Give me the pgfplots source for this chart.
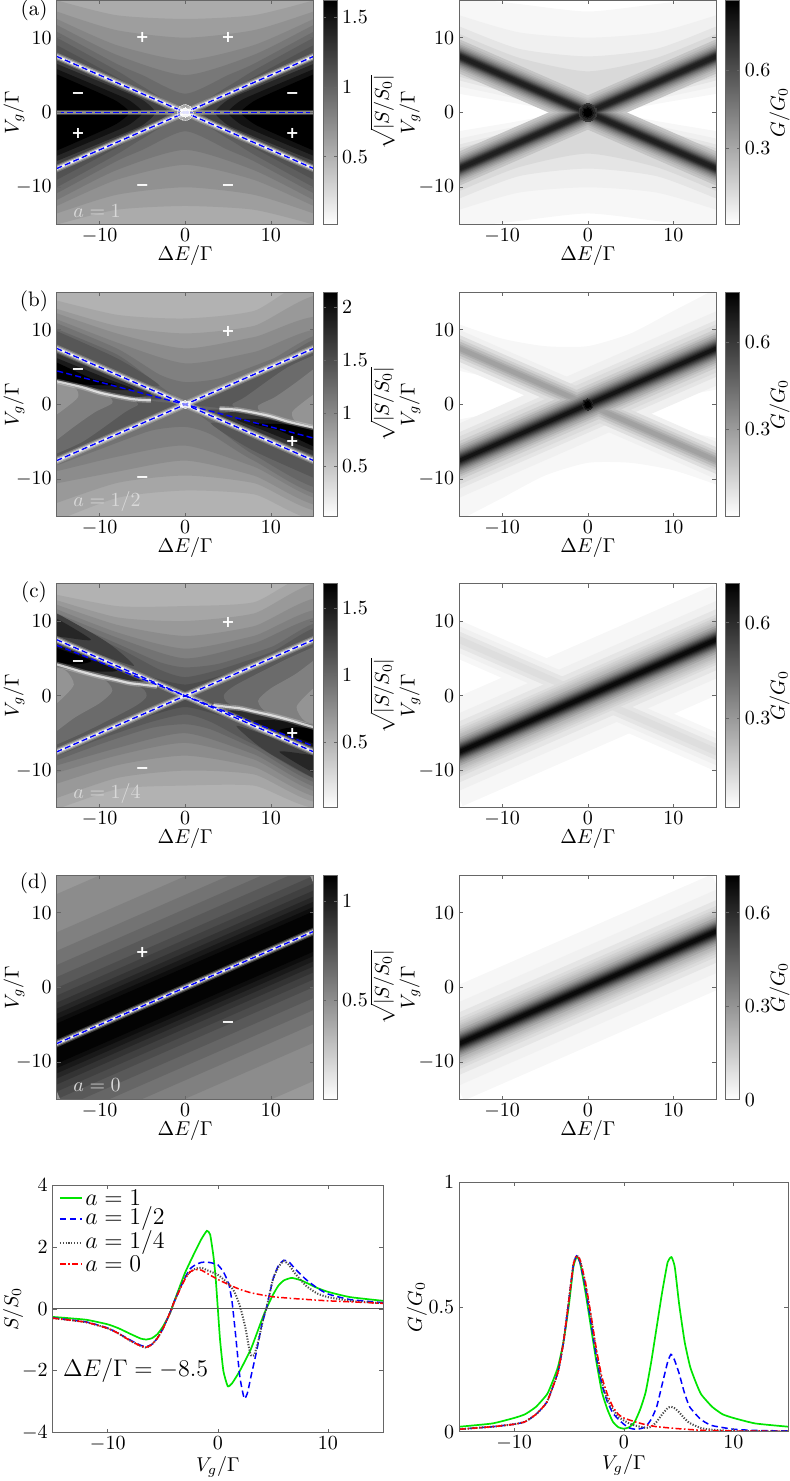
\documentclass[border=0pt]{standalone}
\usepackage[no-math]{fontspec}
\usepackage{pgfplots}
\usepackage{pgfplotstable}
\pgfplotsset{compat=1.18}
\newfontfamily\sgnfont{DejaVu Sans}
\pgfplotsset{colormap={invgray}{gray(0cm)=(1); gray(1cm)=(0)}}
\pgfplotstableread{
x y
-17 -8.5
17 8.5
}\tUp
\pgfplotstableread{
x y
-17 8.5
17 -8.5
}\tDn
\pgfplotstableread{
x y
-17 0
17 0
}\tZero
\pgfplotstableread{
x y
-17 5.1
17 -5.1
}\tThB
\pgfplotstableread{
x y
-17 7.65
17 -7.65
}\tThC
\newcommand\rl[3]{\addplot[draw=black!#1,line width=#2pt,forget plot] table {#3};}
\newcommand\rr[2]{\rl{#1}{#2}{\tUp}\rl{#1}{#2}{\tDn}}
\newcommand\pg[2]{\addplot[fill=black!#1,draw=none,smooth,tension=.4,forget plot] coordinates {#2};}
\newcommand\blob[3]{\addplot[only marks,mark=*,mark size=#2pt,color=#1,mark options={draw=#1,fill=#1,line width=0pt,opacity=#3},forget plot] coordinates {(0,0)};}
\newcommand\wl[1]{%
\addplot[white,opacity=.22,line width=3.6pt,forget plot] table {#1};
\addplot[white,opacity=.4,line width=2.4pt,forget plot] table {#1};
\addplot[white,opacity=.9,line width=1.2pt,forget plot] table {#1};}
\newcommand\bl[1]{\addplot[blue,line width=.7pt,dash pattern=on 3pt off 1.6pt,forget plot] table {#1};}
\newcommand\wc[1]{%
\addplot[white,opacity=.25,line width=2.6pt,smooth,forget plot] coordinates {#1};
\addplot[white,opacity=.7,line width=1.1pt,smooth,forget plot] coordinates {#1};}
\newcommand\sgn[3]{\node[text=white,inner sep=0pt] at (axis cs:#2,#3) {\fontsize{8}{9}\selectfont\sgnfont\bfseries #1};}
\newcommand\atag[2]{\node[anchor=west,inner sep=0pt,text=white!85!black] at (axis cs:-13.1,#2) {$a=#1$};}
\newcommand\leglab[2]{\node[anchor=west,inner sep=0pt] at (axis cs:-12.07,#1) {\fontsize{12}{14}\selectfont$a=#2$};}
\pgfplotsset{
  base/.style={scale only axis,anchor=south west,axis on top,
    tick align=inside,tick pos=both,major tick length=2pt,
    tick style={black!60,line width=.3pt},
    axis line style={black!60,line width=.5pt},
    tick label style={font=\fontsize{10}{12}\selectfont},
    xticklabel style={yshift=1.5pt},yticklabel style={xshift=1pt},
    label style={font=\fontsize{11}{12}\selectfont}},
  hm/.style={base,width=128.5pt,height=112.2pt,xmin=-15,xmax=15,ymin=-15,ymax=15,
    xtick={-10,0,10},ytick={-10,0,10},
    xlabel={$\Delta E/\Gamma$},ylabel={$V_g/\Gamma$},
    every axis x label/.style={at={(axis description cs:.5,-.138)},anchor=center},
    colormap name=invgray,colorbar,
    every colorbar/.append style={scale only axis,width=7pt,at={(parent axis.north east)},anchor=north west,xshift=-3.8pt,
      tick align=inside,major tick length=1.5pt,
      tick style={black!60,line width=.3pt},
      axis line style={black!60,line width=.5pt},
      yticklabel style={xshift=-1pt,font=\fontsize{10}{12}\selectfont},
      label style={font=\fontsize{10.5}{12}\selectfont}}},
  hl/.style={hm,every axis y label/.style={at={(axis description cs:-.166,.5)},rotate=90,anchor=center},
    every colorbar/.append style={every axis y label/.style={at={(axis description cs:4.24,.5)},rotate=90,anchor=center},ylabel={$\sqrt{|S/S_0|}$}}},
  hr/.style={hm,every axis y label/.style={at={(axis description cs:-.192,.5)},rotate=90,anchor=center},
    every colorbar/.append style={every axis y label/.style={at={(axis description cs:3.85,.5)},rotate=90,anchor=center},ylabel={$G/G_0$},ytick={.3,.6}}},
}
\begin{document}
\begin{tikzpicture}
\path[use as bounding box] (0,0) rectangle (395pt,740.5pt);
% ---------------- (a) S
\begin{axis}[hl,at={(28.35pt,628.15pt)},point meta min=.014,point meta max=1.62,
  colorbar style={ytick={.5,1,1.5}}]
\pg{33}{(-17,-17)(17,-17)(17,17)(-17,17)}
\pg{38}{(-17,16)(-15,15)(-8,13)(0,12.5)(8,13)(15,15)(17,16)(17,-16)(15,-15)(8,-13)(0,-12.5)(-8,-13)(-15,-15)(-17,-16)}
\pg{43}{(-17,14.5)(-15,13.5)(-8,11)(0,10)(8,11)(15,13.5)(17,14.5)(17,-14.5)(15,-13.5)(8,-11)(0,-10)(-8,-11)(-15,-13.5)(-17,-14.5)}
\pg{48}{(-17,13.5)(-15,12.5)(-8,9)(0,7)(8,9)(15,12.5)(17,13.5)(17,-13.5)(15,-12.5)(8,-9)(0,-7)(-8,-9)(-15,-12.5)(-17,-13.5)}
\pg{53}{(-17,12.7)(-15,11.7)(-8,7.7)(0,5)(8,7.7)(15,11.7)(17,12.7)(17,-12.7)(15,-11.7)(8,-7.7)(0,-5)(-8,-7.7)(-15,-11.7)(-17,-12.7)}
\pg{58}{(-17,11.8)(-15,10.8)(-8,6.5)(-5,5)(0,2.5)(5,5)(8,6.5)(15,10.8)(17,11.8)(17,-11.8)(15,-10.8)(8,-6.5)(5,-5)(0,-2.5)(-5,-5)(-8,-6.5)(-15,-10.8)(-17,-11.8)}
\pg{63}{(-17,11)(-15,10)(-8,5.6)(-5,3.5)(0,.5)(5,3.5)(8,5.6)(15,10)(17,11)(17,-11)(15,-10)(8,-5.6)(5,-3.5)(0,-.5)(-5,-3.5)(-8,-5.6)(-15,-10)(-17,-11)}
\pg{68}{(-17,10)(-15,9)(-8,4.7)(-4,2)(-1,0)(-4,-2)(-8,-4.7)(-15,-9)(-17,-10)}
\pg{68}{(17,10)(15,9)(8,4.7)(4,2)(1,0)(4,-2)(8,-4.7)(15,-9)(17,-10)}
\pg{75}{(-17,8.1)(-15,7.1)(-8,3.6)(-4,1.7)(-2,0)(-4,-1.7)(-8,-3.6)(-15,-7.1)(-17,-8.1)}
\pg{75}{(17,8.1)(15,7.1)(8,3.6)(4,1.7)(2,0)(4,-1.7)(8,-3.6)(15,-7.1)(17,-8.1)}
\pg{85}{(-17,7.5)(-15,6.5)(-8,3.2)(-5,1.7)(-3.5,0)(-5,-1.7)(-8,-3.2)(-15,-6.5)(-17,-7.5)}
\pg{85}{(17,7.5)(15,6.5)(8,3.2)(5,1.7)(3.5,0)(5,-1.7)(8,-3.2)(15,-6.5)(17,-7.5)}
\pg{93}{(-17,6.8)(-15,5.8)(-9,2.9)(-6.5,1.6)(-5,0)(-6.5,-1.6)(-9,-2.9)(-15,-5.8)(-17,-6.8)}
\pg{93}{(17,6.8)(15,5.8)(9,2.9)(6.5,1.6)(5,0)(6.5,-1.6)(9,-2.9)(15,-5.8)(17,-6.8)}
\pg{100}{(-17,6)(-15,5.1)(-10,2.6)(-8,1.5)(-6.5,0)(-8,-1.5)(-10,-2.6)(-15,-5.1)(-17,-6)}
\pg{100}{(17,6)(15,5.1)(10,2.6)(8,1.5)(6.5,0)(8,-1.5)(10,-2.6)(15,-5.1)(17,-6)}
\wl{\tUp}\wl{\tDn}
\addplot[white,opacity=.25,line width=2.6pt,forget plot] table {\tZero};
\rl{45}{1.3}{\tZero}
\blob{white}{4}{.4}\blob{white}{2.3}{.8}
\bl{\tUp}\bl{\tDn}\bl{\tZero}
\sgn{+}{-5}{10}\sgn{+}{5}{10}\sgn{\textminus}{-12.5}{2.2}\sgn{\textminus}{12.5}{2.2}
\sgn{+}{-12.5}{-2.8}\sgn{+}{12.5}{-2.8}\sgn{\textminus}{-5}{-10}\sgn{\textminus}{5}{-10}
\atag{1}{-13.2}
\end{axis}
% ---------------- (a) G
\begin{axis}[hr,at={(229.65pt,628.15pt)},point meta min=.003,point meta max=.87]
\pg{3}{(-17,16.5)(-15,15.5)(-8,14.5)(0,13.5)(8,14.5)(15,15.5)(17,16.5)(17,3)(15,2.5)(4,0)(15,-2.5)(17,-3)(17,-16.5)(15,-15.5)(8,-14.5)(0,-13.5)(-8,-14.5)(-15,-15.5)(-17,-16.5)(-17,-3)(-15,-2.5)(-4,0)(-15,2.5)(-17,3)}
\pg{6}{(-17,14)(-15,13)(-8,10.7)(0,10)(8,10.7)(15,13)(17,14)(17,4)(15,3.5)(3,0)(15,-3.5)(17,-4)(17,-14)(15,-13)(8,-10.7)(0,-10)(-8,-10.7)(-15,-13)(-17,-14)(-17,-4)(-15,-3.5)(-3,0)(-15,3.5)(-17,4)}
\pg{10}{(-17,12.5)(-15,11.5)(-8,8.5)(0,7.5)(8,8.5)(15,11.5)(17,12.5)(17,5)(15,4.3)(2.5,0)(15,-4.3)(17,-5)(17,-12.5)(15,-11.5)(8,-8.5)(0,-7.5)(-8,-8.5)(-15,-11.5)(-17,-12.5)(-17,-5)(-15,-4.3)(-2.5,0)(-15,4.3)(-17,5)}
\pg{15}{(-17,11.5)(-15,10.5)(-8,7.3)(0,5.5)(8,7.3)(15,10.5)(17,11.5)(17,5.6)(15,4.8)(2,0)(15,-4.8)(17,-5.6)(17,-11.5)(15,-10.5)(8,-7.3)(0,-5.5)(-8,-7.3)(-15,-10.5)(-17,-11.5)(-17,-5.6)(-15,-4.8)(-2,0)(-15,4.8)(-17,5.6)}
\rr{23}{15.7}\rr{28}{13.3}\rr{34}{11.3}\rr{40}{9.8}\rr{46}{8.5}\rr{52}{7.3}\rr{57}{6.5}\rr{63}{5.5}\rr{69}{4.8}\rr{76}{3.9}\rr{83}{3}\rr{88}{1.8}
\blob{black!78}{4.5}{1}\blob{black!85}{3.7}{1}\blob{black!93}{2.8}{1}\blob{black}{2}{1}
\end{axis}
% ---------------- (b) S
\begin{axis}[hl,at={(28.35pt,482.15pt)},point meta min=.025,point meta max=2.144,
  colorbar style={ytick={.5,1,1.5,2}}]
\pg{30}{(-17,-17)(17,-17)(17,17)(-17,17)}
\pg{35}{(-17,14.5)(-8,12)(0,11.5)(8,12.5)(17,16.5)(17,-14.5)(8,-12)(0,-11.5)(-8,-12.5)(-17,-16.5)}
\pg{40}{(-17,13.5)(-8,10.5)(0,9.5)(8,10.5)(17,14)(17,-13.5)(8,-10.5)(0,-9.5)(-8,-10.5)(-17,-14)}
\pg{45}{(-17,13)(-8,9.5)(0,7.5)(8,9)(17,11)(17,-13)(8,-9.5)(0,-7.5)(-8,-9)(-17,-11)}
\pg{50}{(-17,12.3)(-8,8.3)(0,5.5)(8,7)(17,9.5)(17,-12.3)(8,-8.3)(0,-5.5)(-8,-7)(-17,-9.5)}
\pg{55}{(-17,11.8)(-8,7.5)(-3,4)(0,3)(4,3.5)(10,6)(17,9)(17,-11.8)(8,-7.5)(3,-4)(0,-3)(-4,-3.5)(-10,-6)(-17,-9)}
\pg{60}{(-17,11)(-8,6.7)(-3,2.5)(0,.5)(4,2.3)(10,5.2)(17,8.7)(17,-11)(8,-6.7)(3,-2.5)(0,-.5)(-4,-2.3)(-10,-5.2)(-17,-8.7)}
\pg{66}{(-17,10.8)(-8,6.2)(-3,2.5)(-8,3.5)(-17,8)}
\pg{66}{(17,-10.8)(8,-6.2)(3,-2.5)(8,-3.5)(17,-8)}
\pg{65}{(-17,3.4)(-4,.5)(-.5,0)(-4,-1.9)(-17,-8.4)}
\pg{65}{(17,-3.4)(4,-.5)(.5,0)(4,1.9)(17,8.4)}
\pg{58}{(-17,3.4)(-7,.9)(-5.5,0)(-7,-1)(-12,-5)(-17,-7.5)}
\pg{58}{(17,-3.4)(7,-.9)(5.5,0)(7,1)(12,5)(17,7.5)}
\pg{50}{(-17,3.4)(-9.5,1.4)(-8.5,.2)(-10.5,-1)(-13,-3)(-17,-6.5)}
\pg{50}{(17,-3.4)(9.5,-1.4)(8.5,-.2)(10.5,1)(13,3)(17,6.5)}
\pg{42}{(-17,3.4)(-13,2.3)(-12.5,1)(-14,-.5)(-17,-3)}
\pg{42}{(17,-3.4)(13,-2.3)(12.5,-1)(14,.5)(17,3)}
\pg{70}{(-17,8.2)(-15,7.2)(-8,3.7)(-2,.9)(-6,.8)(-10,1.7)(-17,3.5)}
\pg{70}{(17,-8.2)(15,-7.2)(8,-3.7)(2,-.9)(6,-.8)(10,-1.7)(17,-3.5)}
\pg{80}{(-17,7.8)(-15,6.8)(-8,3.4)(-4,1.5)(-6,1)(-10,1.9)(-17,3.6)}
\pg{80}{(17,-7.8)(15,-6.8)(8,-3.4)(4,-1.5)(6,-1)(10,-1.9)(17,-3.6)}
\pg{90}{(-17,7)(-15,6.2)(-9,3.4)(-6,2)(-10,2.1)(-17,3.7)}
\pg{90}{(17,-7)(15,-6.2)(9,-3.4)(6,-2)(10,-2.1)(17,-3.7)}
\pg{100}{(-17,6.2)(-15,5.6)(-11,3.5)(-8,2.6)(-12,2.7)(-17,3.7)}
\pg{100}{(17,-6.2)(15,-5.6)(11,-3.5)(8,-2.6)(12,-2.7)(17,-3.7)}
\wl{\tUp}\wl{\tDn}
\wc{(-17,3.6)(-15,3.1)(-12,2.3)(-10,1.6)(-8,1.1)(-6,.7)(-4,.55)}
\wc{(17,-3.6)(15,-3.1)(12,-2.3)(10,-1.6)(8,-1.1)(6,-.7)(4,-.55)}
\blob{white}{2}{.5}
\bl{\tUp}\bl{\tDn}\bl{\tThB}
\sgn{+}{5}{9.8}\sgn{\textminus}{-12.5}{4.4}\sgn{+}{12.5}{-5}\sgn{\textminus}{-5}{-10}
\atag{1/2}{-13}
\end{axis}
% ---------------- (b) G
\begin{axis}[hr,at={(229.65pt,482.15pt)},point meta min=0,point meta max=.772]
\pg{3}{(-17,11.5)(-15,10.7)(-10,8.8)(-5,7.8)(0,7.8)(5,9.5)(10,12.5)(15,15.5)(17,17)(17,2.5)(15,2)(3,-1)(15,-4.5)(17,-5)(17,-11.5)(15,-10.7)(10,-8.8)(5,-7.8)(0,-7.8)(-5,-9.5)(-10,-12.5)(-15,-15.5)(-17,-17)(-17,-2.5)(-15,-2)(-3,1)(-15,4.5)(-17,5)}
\rl{6}{17}{\tDn}\rl{6}{34}{\tUp}
\rl{10}{26}{\tUp}\rl{13}{12.3}{\tDn}\rl{14}{22}{\tUp}
\rl{19}{8.9}{\tDn}\rl{20}{17.8}{\tUp}
\rl{26}{6.5}{\tDn}\rl{26}{15}{\tUp}
\rl{32}{4.1}{\tDn}\rl{33}{13}{\tUp}\rl{37}{2.4}{\tDn}
\rl{39}{11}{\tUp}\rl{46}{9.5}{\tUp}\rl{52}{8.2}{\tUp}\rl{58}{7.1}{\tUp}\rl{65}{6.1}{\tUp}\rl{72}{5}{\tUp}\rl{78}{4}{\tUp}\rl{85}{3}{\tUp}\rl{92}{1.8}{\tUp}
\blob{black!85}{2.8}{1}\blob{black!93}{2.2}{1}\blob{black}{1.5}{1}
\end{axis}
% ---------------- (c) S
\begin{axis}[hl,at={(28.35pt,336.5pt)},point meta min=.005,point meta max=1.685,
  colorbar style={ytick={.5,1,1.5}}]
\pg{30}{(-17,-17)(17,-17)(17,17)(-17,17)}
\pg{35}{(-17,14)(-8,12)(0,12)(8,12.5)(17,16)(17,-14)(8,-12)(0,-12)(-8,-12.5)(-17,-16)}
\pg{40}{(-17,13.5)(-8,10.5)(0,10)(8,11)(17,14.5)(17,-13.5)(8,-10.5)(0,-10)(-8,-11)(-17,-14.5)}
\pg{45}{(-17,13)(-8,9.5)(0,8)(8,9.3)(17,12.5)(17,-13)(8,-9.5)(0,-8)(-8,-9.3)(-17,-12.5)}
\pg{50}{(-17,12.5)(-8,8.5)(0,6.3)(8,8)(17,11)(17,-12.5)(8,-8.5)(0,-6.3)(-8,-8)(-17,-11)}
\pg{55}{(-17,12)(-8,7.8)(0,5)(8,7)(17,10)(17,-12)(8,-7.8)(0,-5)(-8,-7)(-17,-10)}
\pg{60}{(-17,11.5)(-8,7)(-3,4.5)(0,3.8)(4,4.3)(10,6.5)(17,9.5)(17,-11.5)(8,-7)(3,-4.5)(0,-3.8)(-4,-4.3)(-10,-6.5)(-17,-9.5)}
\pg{65}{(-17,11)(-8,6.5)(-3,3.5)(0,2.5)(4,3.5)(10,5.8)(17,9)(17,-11)(8,-6.5)(3,-3.5)(0,-2.5)(-4,-3.5)(-10,-5.8)(-17,-9)}
\pg{70}{(-6,3.2)(0,1.5)(6,3.2)(3,0)(6,-3.2)(0,-1.5)(-6,-3.2)(-3,0)}
\pg{75}{(-17,11.5)(-15,11)(-10,7.8)(-8,6.2)(-6,4)(-10,5.5)(-17,8)}
\pg{75}{(17,-11.5)(15,-11)(10,-7.8)(8,-6.2)(6,-4)(10,-5.5)(17,-8)}
\pg{85}{(-17,10.8)(-15,10.3)(-11,7.5)(-14,7.8)(-17,8.3)}
\pg{85}{(17,-10.8)(15,-10.3)(11,-7.5)(14,-7.8)(17,-8.3)}
\pg{65}{(-17,4.3)(-4,1.2)(-.5,0)(-4,-1.9)(-17,-8.4)}
\pg{65}{(17,-4.3)(4,-1.2)(.5,0)(4,1.9)(17,8.4)}
\pg{58}{(-17,4.3)(-6,1.5)(-4.5,0)(-6,-1.5)(-12,-5)(-17,-7.5)}
\pg{58}{(17,-4.3)(6,-1.5)(4.5,0)(6,1.5)(12,5)(17,7.5)}
\pg{50}{(-17,4.3)(-10,2.5)(-8.5,.7)(-10,-1)(-13,-3)(-17,-6.5)}
\pg{50}{(17,-4.3)(10,-2.5)(8.5,-.7)(10,1)(13,3)(17,6.5)}
\pg{42}{(-17,4.3)(-14,3.4)(-13,1.5)(-14.5,-.5)(-17,-3)}
\pg{42}{(17,-4.3)(14,-3.4)(13,-1.5)(14.5,.5)(17,3)}
\pg{70}{(-17,8.3)(-3.5,1.6)(-6,1.8)(-10,2.7)(-17,4.4)}
\pg{70}{(17,-8.3)(3.5,-1.6)(6,-1.8)(10,-2.7)(17,-4.4)}
\pg{82}{(-17,8.1)(-5,2.4)(-7,2.1)(-10,3)(-17,4.5)}
\pg{82}{(17,-8.1)(5,-2.4)(7,-2.1)(10,-3)(17,-4.5)}
\pg{92}{(-17,7.7)(-8,3.5)(-12,3.4)(-17,4.6)}
\pg{92}{(17,-7.7)(8,-3.5)(12,-3.4)(17,-4.6)}
\pg{100}{(-17,7.4)(-15,6.4)(-11,4.7)(-13,4.2)(-17,4.8)}
\pg{100}{(17,-7.4)(15,-6.4)(11,-4.7)(13,-4.2)(17,-4.8)}
\wl{\tUp}\wl{\tDn}
\wc{(-17,4.7)(-15,4.2)(-12,3.2)(-10,2.6)(-8,2.1)(-6.5,1.7)(-5,1.5)(-3.3,1.25)}
\wc{(17,-4.7)(15,-4.2)(12,-3.2)(10,-2.6)(8,-2.1)(6.5,-1.7)(5,-1.5)(3.3,-1.25)}
\bl{\tUp}\bl{\tDn}\bl{\tThC}
\sgn{+}{5}{9.8}\sgn{\textminus}{-12.5}{4.3}\sgn{+}{12.5}{-5}\sgn{\textminus}{-5}{-10}
\atag{1/4}{-13}
\end{axis}
% ---------------- (c) G
\begin{axis}[hr,at={(229.65pt,336.5pt)},point meta min=.016,point meta max=.723]
\rl{3}{18}{\tDn}\rl{3}{51}{\tUp}
\rl{6}{12.3}{\tDn}\rl{6}{35.5}{\tUp}
\rl{10}{7.5}{\tDn}\rl{10}{28}{\tUp}
\rl{13}{3.4}{\tDn}\rl{14}{23}{\tUp}
\rl{18}{20.5}{\tUp}\rl{21}{18.4}{\tUp}\rl{25}{16.5}{\tUp}\rl{28}{15}{\tUp}\rl{35}{13}{\tUp}\rl{42}{11}{\tUp}\rl{48}{9.5}{\tUp}\rl{55}{8.2}{\tUp}\rl{62}{7.1}{\tUp}\rl{69}{6.1}{\tUp}\rl{76}{5}{\tUp}\rl{83}{4}{\tUp}\rl{90}{3}{\tUp}\rl{96}{1.8}{\tUp}
\end{axis}
% ---------------- (d) S
\begin{axis}[hl,at={(28.35pt,190.65pt)},point meta min=0,point meta max=1.13,
  colorbar style={ytick={.5,1}}]
\pg{40}{(-17,-17)(17,-17)(17,17)(-17,17)}
\rl{45}{137}{\tUp}\rl{50}{102}{\tUp}\rl{55}{85}{\tUp}\rl{60}{72}{\tUp}\rl{65}{61}{\tUp}\rl{70}{51}{\tUp}\rl{75}{44}{\tUp}\rl{80}{37.5}{\tUp}\rl{85}{32}{\tUp}\rl{90}{27.3}{\tUp}\rl{95}{22.5}{\tUp}\rl{99}{18.4}{\tUp}
\wl{\tUp}
\bl{\tUp}
\sgn{+}{-5}{4.7}\sgn{\textminus}{5}{-5}
\atag{0}{-13}
\end{axis}
% ---------------- (d) G
\begin{axis}[hr,at={(229.65pt,190.65pt)},point meta min=0,point meta max=.72,
  colorbar style={ytick={0,.3,.6}}]
\rl{3}{54}{\tUp}\rl{5.5}{38.2}{\tUp}\rl{10}{28.7}{\tUp}\rl{14}{23.4}{\tUp}\rl{18}{20.5}{\tUp}\rl{21}{18.3}{\tUp}\rl{25}{16.5}{\tUp}\rl{28}{15}{\tUp}\rl{35}{13}{\tUp}\rl{42}{10.9}{\tUp}\rl{48}{9.5}{\tUp}\rl{55}{8.3}{\tUp}\rl{62}{7.1}{\tUp}\rl{69}{6.1}{\tUp}\rl{76}{5}{\tUp}\rl{83}{4}{\tUp}\rl{90}{3}{\tUp}\rl{96}{1.8}{\tUp}
\end{axis}
% ---------------- bottom S
\begin{axis}[base,at={(26.35pt,24.15pt)},width=165.15pt,height=123.85pt,
  xmin=-15,xmax=15,ymin=-4,ymax=4,xtick={-10,0,10},ytick={-4,-2,0,2,4},
  xlabel={$V_g/\Gamma$},ylabel={$S/S_0$},
  every axis x label/.style={at={(axis description cs:.5,-.138)},anchor=center},
  every axis y label/.style={at={(axis description cs:-.12,.5)},rotate=90,anchor=center}]
\addplot[green!90!black,line width=.85pt,smooth,tension=.3,forget plot] coordinates {(-15,-.26)(-12,-.35)(-10,-.5)(-9,-.63)(-8,-.8)(-7,-.96)(-6.5,-.99)(-6,-.95)(-5.5,-.82)(-5,-.58)(-4.5,-.26)(-4.2,0)(-4,.2)(-3,1.15)(-2,1.9)(-1.5,2.25)(-1,2.52)(-.7,2.4)(-.4,1.7)(-.2,1)(0,0)(.2,-1)(.5,-2)(.9,-2.5)(1.3,-2.4)(2,-2)(3,-1.3)(4,-.35)(4.4,0)(5,.45)(5.5,.75)(6,.92)(6.7,1)(7.5,.93)(8,.85)(9,.68)(10,.55)(12,.38)(15,.26)};
\addplot[blue,line width=.75pt,dash pattern=on 3.2pt off 1.8pt,smooth,tension=.3,forget plot] coordinates {(-15,-.29)(-12,-.42)(-10,-.62)(-9,-.8)(-8,-1)(-7,-1.18)(-6.5,-1.22)(-6,-1.15)(-5.5,-.95)(-5,-.65)(-4.5,-.25)(-4.2,0)(-4,.2)(-3,1)(-2.5,1.3)(-2,1.43)(-1.5,1.5)(-1,1.51)(-.5,1.48)(0,1.42)(.5,1.2)(1,.8)(1.3,.2)(1.6,-.8)(2,-2.2)(2.4,-2.9)(2.7,-2.7)(3,-2.2)(3.5,-1.4)(4,-.5)(4.4,0)(5,.95)(5.5,1.4)(6,1.57)(6.5,1.5)(7,1.3)(8,.95)(9,.68)(10,.48)(12,.3)(15,.2)};
\addplot[black!70,line width=1pt,dash pattern=on .6pt off .8pt,smooth,tension=.3,forget plot] coordinates {(-15,-.3)(-12,-.43)(-10,-.63)(-9,-.8)(-8,-1.02)(-7,-1.2)(-6.5,-1.25)(-6,-1.15)(-5.5,-.95)(-5,-.65)(-4.5,-.25)(-4.2,0)(-4,.2)(-3,1)(-2.5,1.2)(-2,1.3)(-1.5,1.33)(-1,1.25)(0,1.1)(1,.8)(1.5,.55)(2,.1)(2.5,-.6)(2.8,-1.2)(3,-1.5)(3.3,-1.5)(3.7,-1)(4.2,-.2)(4.4,0)(5,.95)(5.5,1.35)(6,1.55)(6.5,1.4)(7,1.15)(8,.75)(9,.5)(10,.38)(12,.26)(15,.18)};
\addplot[red,line width=.75pt,dash pattern=on 3pt off 1.2pt on .8pt off 1.2pt,smooth,tension=.3,forget plot] coordinates {(-15,-.3)(-12,-.43)(-10,-.63)(-9,-.8)(-8,-1.02)(-7,-1.2)(-6.5,-1.24)(-6,-1.15)(-5.5,-.95)(-5,-.65)(-4.5,-.25)(-4.2,0)(-4,.2)(-3,.95)(-2.5,1.2)(-2,1.27)(-1.5,1.25)(-1,1.15)(0,.95)(1,.78)(2,.63)(3,.52)(4,.45)(5,.39)(7,.33)(10,.26)(15,.18)};
\addplot[black!65,line width=.5pt,forget plot] coordinates {(-15,0)(15,0)};
\addplot[green!90!black,line width=.85pt,forget plot] coordinates {(-14.34,3.58)(-12.34,3.58)};
\addplot[blue,line width=.75pt,dash pattern=on 3.2pt off 1.8pt,forget plot] coordinates {(-14.34,2.91)(-12.34,2.91)};
\addplot[black!70,line width=1pt,dash pattern=on .6pt off .8pt,forget plot] coordinates {(-14.34,2.13)(-12.34,2.13)};
\addplot[red,line width=.75pt,dash pattern=on 3pt off 1.2pt on .8pt off 1.2pt,forget plot] coordinates {(-14.34,1.45)(-12.34,1.45)};
\leglab{3.58}{1}\leglab{2.91}{1/2}\leglab{2.13}{1/4}\leglab{1.45}{0}
\node[anchor=west,inner sep=0pt] at (axis cs:-14.1,-1.98) {\fontsize{12}{14}\selectfont$\Delta E/\Gamma=-8.5$};
\end{axis}
% ---------------- bottom G
\begin{axis}[base,at={(229.65pt,24.65pt)},width=164.5pt,height=124.7pt,
  xmin=-15,xmax=15,ymin=0,ymax=1,xtick={-10,0,10},ytick={0,.5,1},
  xlabel={$V_g/\Gamma$},ylabel={$G/G_0$},
  every axis x label/.style={at={(axis description cs:.5,-.133)},anchor=center},
  every axis y label/.style={at={(axis description cs:-.129,.5)},rotate=90,anchor=center}]
\addplot[green!90!black,line width=.85pt,smooth,tension=.3] coordinates {(-15,.02)(-12,.033)(-10,.055)(-9,.07)(-8,.1)(-7,.15)(-6.5,.2)(-6,.26)(-5.5,.36)(-5,.51)(-4.6,.66)(-4.3,.7)(-4,.68)(-3.5,.56)(-3,.42)(-2.5,.28)(-2,.16)(-1.5,.09)(-1,.04)(-.5,.018)(0,.012)(.5,.018)(1,.04)(1.5,.09)(2,.16)(2.5,.28)(3,.42)(3.5,.56)(4,.68)(4.35,.7)(4.65,.66)(5.05,.51)(5.55,.36)(6.05,.26)(6.55,.2)(7.05,.15)(8.05,.1)(9,.07)(10,.055)(12,.033)(15,.02)};
\addplot[blue,line width=.75pt,dash pattern=on 3.2pt off 1.8pt,smooth,tension=.3] coordinates {(-15,.01)(-12,.02)(-10,.03)(-9,.04)(-8,.07)(-7,.12)(-6,.24)(-5.5,.36)(-5,.53)(-4.6,.67)(-4.3,.705)(-4,.68)(-3.5,.58)(-3,.44)(-2.5,.3)(-2,.19)(-1.5,.12)(-1,.075)(-.5,.05)(0,.03)(.5,.015)(1,.01)(1.5,.012)(2,.02)(2.5,.05)(3,.1)(3.5,.19)(4,.28)(4.3,.31)(4.6,.29)(5,.24)(5.5,.16)(6,.1)(7,.05)(8,.025)(10,.01)(12,.005)(15,.003)};
\addplot[black!70,line width=1pt,dash pattern=on .6pt off .8pt,smooth,tension=.3] coordinates {(-15,.01)(-12,.02)(-10,.03)(-9,.04)(-8,.07)(-7,.12)(-6,.24)(-5.5,.36)(-5,.53)(-4.6,.67)(-4.3,.705)(-4,.69)(-3.5,.59)(-3,.46)(-2.5,.32)(-2,.2)(-1.5,.13)(-1,.09)(-.5,.06)(0,.045)(.5,.033)(1,.025)(2,.015)(2.5,.02)(3,.04)(3.5,.07)(4,.095)(4.3,.1)(4.6,.095)(5,.08)(5.5,.055)(6,.035)(7,.015)(8,.008)(10,.003)(15,.001)};
\addplot[red,line width=.75pt,dash pattern=on 3pt off 1.2pt on .8pt off 1.2pt,smooth,tension=.3] coordinates {(-15,.01)(-12,.02)(-10,.03)(-9,.04)(-8,.07)(-7,.12)(-6,.24)(-5.5,.36)(-5,.53)(-4.6,.67)(-4.3,.705)(-4,.69)(-3.5,.6)(-3,.47)(-2.5,.33)(-2,.22)(-1.5,.15)(-1,.1)(-.5,.07)(0,.055)(1,.04)(2,.028)(3,.02)(5,.012)(7,.006)(10,.003)(15,.001)};
\end{axis}
\node at (17pt,735.5pt) {\fontsize{10.5}{12}\selectfont(a)};
\node at (17pt,590pt) {\fontsize{10.5}{12}\selectfont(b)};
\node at (17pt,444.3pt) {\fontsize{10.5}{12}\selectfont(c)};
\node at (17pt,299pt) {\fontsize{10.5}{12}\selectfont(d)};
\end{tikzpicture}
\end{document}
